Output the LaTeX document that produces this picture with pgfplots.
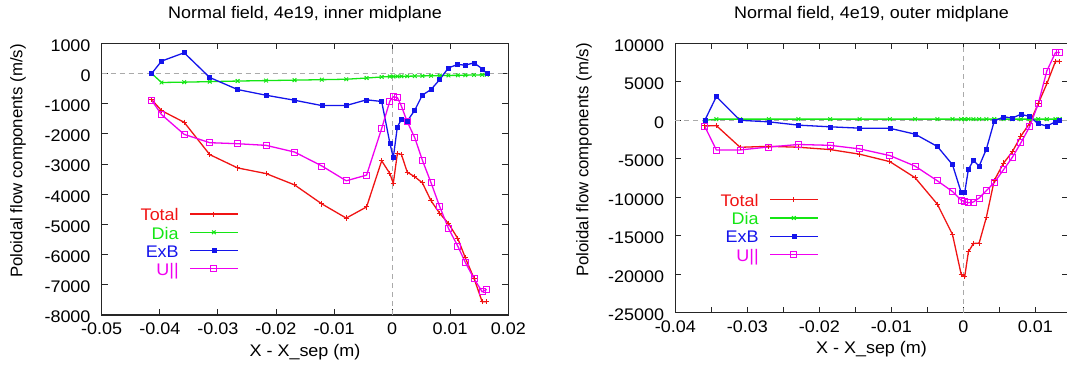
\documentclass[border=0pt]{standalone}
\usepackage{fontspec}
\setmainfont{Liberation Sans}[FakeStretch=1.07]
\newfontfamily\ylfont{Liberation Sans}
\usepackage{pgfplots}
\pgfplotsset{compat=1.18}
\usepackage{pgfplotstable}

\definecolor{gpred}{RGB}{240,20,20}
\definecolor{gpgreen}{RGB}{20,230,20}
\definecolor{gpblue}{RGB}{20,20,235}
\definecolor{gpmag}{RGB}{240,0,240}
\definecolor{zgray}{RGB}{170,170,170}

\pgfplotstableread{
x       total  dia   exb   upar
-0.0414 -865   0     0     -886
-0.0397 -1230  -298  410   -1362
-0.0358 -1617  -287  687   -2016
-0.0314 -2687  -270  -133  -2292
-0.0266 -3128  -250  -532  -2326
-0.0217 -3315  -235  -720  -2381
-0.0168 -3690  -220  -886  -2602
-0.0121 -4320  -205  -1063 -3063
-0.0079 -4790  -190  -1060 -3554
-0.0044 -4420  -150  -872  -3366
-0.0018 -2892  -115  -927  -1821
-0.0004 -3311  -100  -2296 -916
0.0002  -3642  -98   -2792 -773
0.0009  -2649  -95   -1766 -795
0.0016  -2682  -93   -1523 -1082
0.0026  -3267  -90   -1578 -1600
0.0039  -3422  -85   -1214 -2130
0.0052  -3620  -80   -717  -2870
0.0067  -4216  -75   -530  -3620
0.0082  -4636  -70   -199  -4415
0.0097  -4967  -65   188   -5132
0.0113  -5464  -60   298   -5717
0.0126  -6104  -55   276   -6258
0.0141  -6788  -50   353   -6800
0.0155  -7561  -45   155   -7230
0.0163  -7561  -40   0     -7152
}\leftdata

\pgfplotstableread{
x       total   dia  exb   upar
-0.0359 -740    0    0     -809
-0.0343 -690    150  3074  -3853
-0.0310 -3506   150  0     -3853
-0.0270 -3377   150  -200  -3463
-0.0229 -3500   150  -630  -3140
-0.0185 -3800   150  -845  -3250
-0.0144 -4400   150  -1020 -3710
-0.0102 -5370   150  -1040 -4580
-0.0067 -7450   150  -1800 -5950
-0.0036 -10900  150  -3400 -7860
-0.0015 -14840  150  -5763 -9250
-0.0003 -19990  150  -9359 -10370
0.0002  -20277  150  -9359 -10572
0.0007  -17100  150  -6400 -10702
0.0014  -16000  150  -5200 -10615
0.0022  -15944  150  -5950 -10095
0.0032  -12600  150  -3750 -9142
0.0043  -7800   150  -100  -8080
0.0056  -5550   150  450   -6400
0.0068  -4100   150  300   -4820
0.0080  -2050   150  780   -2920
0.0092  -400    150  500   -850
0.0104  2150    150  -450  2130
0.0116  4750    150  -740  6400
0.0128  7650    150  -200  8800
0.0134  7650    150  -60   8800
}\rightdata

\newcommand{\fs}{\fontsize{16.8}{20}\selectfont}

\pgfplotsset{
  gpaxis/.style={
    scale only axis,
    anchor=south west,
    enlargelimits=false,
    scaled ticks=false,
    axis line style={line width=1.3pt, black!85},
    major tick style={line width=0.9pt, black!85},
    tick align=inside,
    tick pos=both,
    xticklabel pos=lower, yticklabel pos=left,
    major tick length=6pt,
    tick label style={font=\fs, inner sep=0pt},
    xticklabel shift=7.4pt, yticklabel shift=11pt,
    yticklabel style={yshift=-2pt},
    title style={font=\fs, at={(axis description cs:0.5,1)}, anchor=base, yshift=19.3pt},
    xlabel style={font=\fs, at={(axis description cs:0.5,0)}, anchor=base, yshift=-41pt},
    extra x ticks={0}, extra y ticks={0},
    extra x tick labels={}, extra y tick labels={},
    extra tick style={grid=major, major tick length=0pt,
      major grid style={zgray, line width=0.9pt, dash pattern=on 5pt off 4pt}},
    legend plot pos=right,
    legend cell align=right,
    legend style={draw=none, fill=none, inner sep=0pt, outer sep=0pt,
      row sep=1pt, column sep=10.7pt, anchor=north east,
      nodes={inner sep=0pt, text height=15.3pt, text depth=1.9pt, font=\fs}},
    legend image code/.code={
      \draw[##1, mark repeat=2, mark phase=2] plot coordinates {(0pt,0pt) (23.8pt,0pt) (47.6pt,0pt)};
    },
  },
  stot/.style={draw=gpred, color=gpred, line width=1.3pt, mark=+, mark size=2.6pt, mark options={line width=1pt}},
  sdia/.style={draw=gpgreen, color=gpgreen, line width=1.3pt, mark=x, mark size=2.6pt, mark options={line width=1pt}},
  sexb/.style={draw=gpblue, color=gpblue, line width=1.3pt, mark=square*, mark size=2pt, mark options={line width=0.6pt}},
  supa/.style={draw=gpmag, color=gpmag, line width=1.3pt, mark=square, mark size=3pt, mark options={line width=0.9pt}},
}

\begin{document}
\begin{tikzpicture}
\useasboundingbox (0,0) rectangle (1067pt,372pt);

\begin{axis}[gpaxis,
  at={(101.7pt,57pt)},
  width=406.6pt, height=271.7pt,
  xmin=-0.05, xmax=0.02, ymin=-8000, ymax=1000,
  xtick={-0.05,-0.04,-0.03,-0.02,-0.01,0,0.01,0.02},
  xticklabels={-0.05,-0.04,-0.03,-0.02,-0.01,0,0.01,0.02},
  ytick={-8000,-7000,-6000,-5000,-4000,-3000,-2000,-1000,0,1000},
  yticklabels={-8000,-7000,-6000,-5000,-4000,-3000,-2000,-1000,0,1000},
  title={Normal field, 4e19, inner midplane},
  xlabel={X - X\_sep (m)},
  ylabel={\ylfont\fs Poloidal flow components (m/s)},
  ylabel style={at={(axis description cs:-0.2059,0.567)}, anchor=center},
  legend style={at={(axis description cs:0.336,0.403)}},
]
\addplot[stot, forget plot] table[x=x,y=total]{\leftdata};
\addplot[sdia, forget plot] table[x=x,y=dia]{\leftdata};
\addplot[sexb, forget plot] table[x=x,y=exb]{\leftdata};
\addplot[supa, forget plot] table[x=x,y=upar]{\leftdata};
\addlegendimage{stot}
\addlegendentry{\pgfsetfillcolor{gpred}Total}
\addlegendimage{sdia}
\addlegendentry{\pgfsetfillcolor{gpgreen}Dia}
\addlegendimage{sexb}
\addlegendentry{\pgfsetfillcolor{gpblue}ExB}
\addlegendimage{supa}
\addlegendentry{\pgfsetfillcolor{gpmag}U||}
\end{axis}

\begin{axis}[gpaxis,
  at={(675.3pt,59.2pt)},
  width=392.4pt, height=269.5pt,
  xmin=-0.04, xmax=0.0145, ymin=-25000, ymax=10000,
  xtick={-0.04,-0.035,-0.03,-0.025,-0.02,-0.015,-0.01,-0.005,0,0.005,0.01},
  xticklabels={-0.04,,-0.03,,-0.02,,-0.01,,0,,0.01},
  ytick={-25000,-20000,-15000,-10000,-5000,0,5000,10000},
  yticklabels={-25000,-20000,-15000,-10000,-5000,0,5000,10000},
  title={Normal field, 4e19, outer midplane},
  xlabel={X - X\_sep (m)},
  ylabel={\ylfont\fs Poloidal flow components (m/s)},
  ylabel style={at={(axis description cs:-0.2327,0.567)}, anchor=center},
  legend style={at={(axis description cs:0.3644,0.4512)}},
]
\addplot[stot, forget plot] table[x=x,y=total]{\rightdata};
\addplot[sdia, forget plot] table[x=x,y=dia]{\rightdata};
\addplot[sexb, forget plot] table[x=x,y=exb]{\rightdata};
\addplot[supa, forget plot] table[x=x,y=upar]{\rightdata};
\addlegendimage{stot}
\addlegendentry{\pgfsetfillcolor{gpred}Total}
\addlegendimage{sdia}
\addlegendentry{\pgfsetfillcolor{gpgreen}Dia}
\addlegendimage{sexb}
\addlegendentry{\pgfsetfillcolor{gpblue}ExB}
\addlegendimage{supa}
\addlegendentry{\pgfsetfillcolor{gpmag}U||}
\end{axis}
\end{tikzpicture}
\end{document}
